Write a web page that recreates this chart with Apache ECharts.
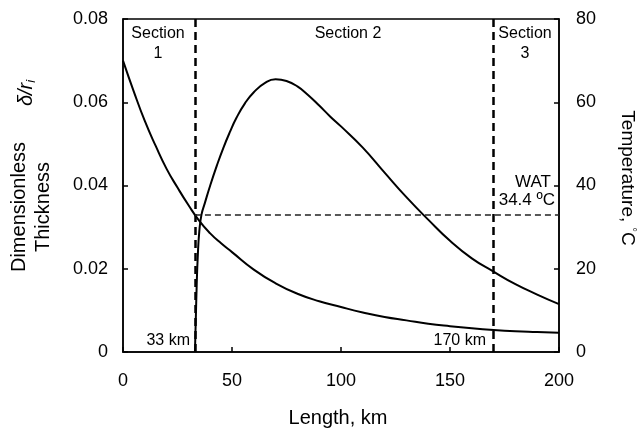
<!DOCTYPE html>
<html>
<head>
<meta charset="utf-8">
<script src="https://cdn.jsdelivr.net/npm/echarts@6/dist/echarts.min.js"></script>
<style>
  html, body { margin: 0; padding: 0; background: #fff; }
  #main { width: 639px; height: 429px; }
</style>
</head>
<body>
<div id="main"></div>
<script>
// temperature along the line (right axis)
var tempKm = [0, 5, 10, 15, 20, 25, 30, 35, 40, 45, 50, 60, 70, 80, 90, 100, 110, 120, 130, 140, 150, 160, 170, 180, 190, 200];
var temperature = [70, 62.5, 55.5, 49.5, 44, 39.5, 35.3, 31.5, 28.5, 26.1, 24, 19.8, 16.5, 14, 12.2, 10.8, 9.5, 8.4, 7.6, 6.8, 6.2, 5.7, 5.3, 5.0, 4.8, 4.6];

// dimensionless deposit thickness (left axis)
var thickKm = [33, 33.4, 33.8, 34.3, 35, 36, 37.5, 40, 43, 46, 49, 52, 56, 60, 65, 70, 75, 80, 85, 90, 95, 100, 110, 120, 130, 140, 150, 160, 170, 180, 190, 200];
var thickness = [0, 0.008, 0.016, 0.023, 0.029, 0.033, 0.0357, 0.0400, 0.0447, 0.0490, 0.0528, 0.0562, 0.0598, 0.0624, 0.0646, 0.0655, 0.0651, 0.0638, 0.0617, 0.0592, 0.0566, 0.0542, 0.0491, 0.0431, 0.0372, 0.0318, 0.0267, 0.0225, 0.0193, 0.0163, 0.0138, 0.0115];

// section boundaries (km) and WAT line level
var sectionBounds = [33, 170];
var watLevel = 33;

var font = 'Liberation Sans, Arial, sans-serif';

var chart = echarts.init(document.getElementById('main'));

var option = {
    animation: false,
    grid: {
        left: 123, right: 80, top: 19, bottom: 77,
        show: true, borderColor: '#000', borderWidth: 1.5
    },
    xAxis: {
        type: 'value', min: 0, max: 200, interval: 50,
        axisLine: { lineStyle: { color: '#000', width: 1.5 } },
        axisTick: { inside: true, length: 5, lineStyle: { color: '#000', width: 1.5 } },
        axisLabel: { margin: 20, fontSize: 18, color: '#000', fontFamily: font },
        splitLine: { show: false }
    },
    yAxis: [{
        type: 'value', min: 0, max: 0.08, interval: 0.02,
        axisLine: { show: true, lineStyle: { color: '#000', width: 1.5 } },
        axisTick: { show: true, inside: true, length: 5, lineStyle: { color: '#000', width: 1.5 } },
        axisLabel: {
            margin: 15, fontSize: 18, color: '#000', fontFamily: font,
            formatter: function (v) { return v === 0 ? '0' : v.toFixed(2); }
        },
        splitLine: { show: false }
    }, {
        type: 'value', min: 0, max: 80, interval: 20, position: 'right',
        axisLine: { show: true, lineStyle: { color: '#000', width: 1.5 } },
        axisTick: { show: true, inside: true, length: 5, lineStyle: { color: '#000', width: 1.5 } },
        axisLabel: { margin: 17, fontSize: 18, color: '#000', fontFamily: font },
        splitLine: { show: false }
    }],
    series: [{
        name: 'Thickness',
        type: 'line',
        yAxisIndex: 0,
        data: thickKm.map(function (x, i) { return [x, thickness[i]]; }),
        smooth: 0.5,
        showSymbol: false,
        lineStyle: { color: '#000', width: 2 }
    }, {
        name: 'Temperature',
        type: 'line',
        yAxisIndex: 1,
        data: tempKm.map(function (x, i) { return [x, temperature[i]]; }),
        smooth: 0.5,
        showSymbol: false,
        lineStyle: { color: '#000', width: 2 },
        markLine: {
            silent: true,
            symbol: 'none',
            label: { show: false },
            data: [
                { xAxis: sectionBounds[0], lineStyle: { color: '#000', width: 2.5, type: [8, 5] } },
                { xAxis: sectionBounds[1], lineStyle: { color: '#000', width: 2.5, type: [8, 5] } },
                [
                    { coord: [sectionBounds[0], watLevel], lineStyle: { color: '#222', width: 1.5, type: [6, 4] } },
                    { coord: [200, watLevel] }
                ]
            ]
        }
    }],
    graphic: [
        { type: 'text', x: 158, y: 34, style: { text: 'Section', font: '16px ' + font, fill: '#000', textAlign: 'center', textVerticalAlign: 'middle' } },
        { type: 'text', x: 158, y: 54, style: { text: '1', font: '16px ' + font, fill: '#000', textAlign: 'center', textVerticalAlign: 'middle' } },
        { type: 'text', x: 348, y: 34, style: { text: 'Section 2', font: '16px ' + font, fill: '#000', textAlign: 'center', textVerticalAlign: 'middle' } },
        { type: 'text', x: 525, y: 34, style: { text: 'Section', font: '16px ' + font, fill: '#000', textAlign: 'center', textVerticalAlign: 'middle' } },
        { type: 'text', x: 525, y: 54, style: { text: '3', font: '16px ' + font, fill: '#000', textAlign: 'center', textVerticalAlign: 'middle' } },
        { type: 'text', x: 551, y: 182, style: { text: 'WAT', font: '17px ' + font, fill: '#000', textAlign: 'right', textVerticalAlign: 'middle' } },
        { type: 'text', x: 555, y: 200, style: { text: '34.4 ºC', font: '17px ' + font, fill: '#000', textAlign: 'right', textVerticalAlign: 'middle' } },
        { type: 'text', x: 190, y: 341, style: { text: '33 km', font: '16px ' + font, fill: '#000', textAlign: 'right', textVerticalAlign: 'middle' } },
        { type: 'text', x: 486, y: 341, style: { text: '170 km', font: '16px ' + font, fill: '#000', textAlign: 'right', textVerticalAlign: 'middle' } },
        { type: 'text', x: 338, y: 418, style: { text: 'Length, km', font: '20px ' + font, fill: '#000', textAlign: 'center', textVerticalAlign: 'middle' } },
        { type: 'text', x: 19, y: 207, rotation: Math.PI / 2, style: { text: 'Dimensionless', font: '20px ' + font, fill: '#000', textAlign: 'center', textVerticalAlign: 'middle' } },
        { type: 'text', x: 43, y: 207, rotation: Math.PI / 2, style: { text: 'Thickness', font: '20px ' + font, fill: '#000', textAlign: 'center', textVerticalAlign: 'middle' } },
        { type: 'text', x: 26, y: 93, rotation: Math.PI / 2, style: {
            text: '{a|δ/r}{b|i}', fill: '#000', textAlign: 'center', textVerticalAlign: 'middle',
            rich: {
                a: { font: 'italic 20px ' + font, fill: '#000' },
                b: { font: 'italic 13px ' + font, fill: '#000', padding: [10, 0, 0, 0] }
            }
        } },
        { type: 'text', x: 627, y: 178, rotation: -Math.PI / 2, style: {
            text: '{a|Temperature, }{b|°}{a|C}', fill: '#000', textAlign: 'center', textVerticalAlign: 'middle',
            rich: {
                a: { font: '19px ' + font, fill: '#000' },
                b: { font: '11px ' + font, fill: '#000', padding: [0, 0, 10, 0] }
            }
        } }
    ]
};

chart.setOption(option);
</script>
</body>
</html>
